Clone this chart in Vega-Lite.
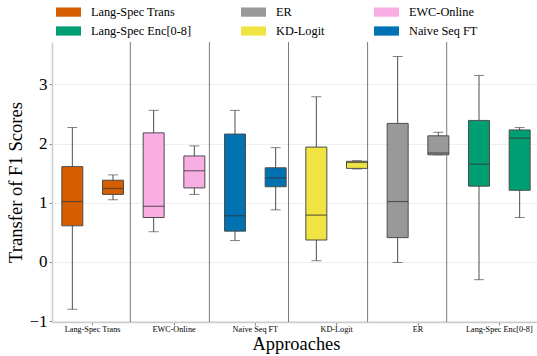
{
  "$schema": "https://vega.github.io/schema/vega-lite/v6.json",
  "width": 485,
  "height": 280,
  "autosize": {"type": "none"},
  "padding": {"left": 52, "top": 42, "right": 0, "bottom": 34},
  "background": "white",
  "config": {
    "font": "Liberation Serif",
    "view": {"stroke": null},
    "axis": {"labelFont": "Liberation Serif", "titleFont": "Liberation Serif", "titleFontWeight": "normal", "labelColor": "#000", "titleColor": "#000"},
    "legend": {"labelFont": "Liberation Serif", "titleFont": "Liberation Serif"},
    "text": {"font": "Liberation Serif"}
  },
  "datasets": {
    "boxes": [
      {"approach": "Lang-Spec Trans", "variant": "Cross", "lower": -0.80, "q1": 0.61, "median": 1.02, "q3": 1.61, "upper": 2.27},
      {"approach": "Lang-Spec Trans", "variant": "Dot", "lower": 1.05, "q1": 1.14, "median": 1.24, "q3": 1.38, "upper": 1.47},
      {"approach": "EWC-Online", "variant": "Cross", "lower": 0.51, "q1": 0.75, "median": 0.94, "q3": 2.18, "upper": 2.56},
      {"approach": "EWC-Online", "variant": "Dot", "lower": 1.14, "q1": 1.25, "median": 1.54, "q3": 1.79, "upper": 1.96},
      {"approach": "Naive Seq FT", "variant": "Cross", "lower": 0.36, "q1": 0.52, "median": 0.78, "q3": 2.16, "upper": 2.56},
      {"approach": "Naive Seq FT", "variant": "Dot", "lower": 0.88, "q1": 1.27, "median": 1.42, "q3": 1.59, "upper": 1.93},
      {"approach": "KD-Logit", "variant": "Cross", "lower": 0.02, "q1": 0.37, "median": 0.79, "q3": 1.94, "upper": 2.79},
      {"approach": "KD-Logit", "variant": "Dot", "lower": 1.57, "q1": 1.58, "median": 1.68, "q3": 1.70, "upper": 1.71},
      {"approach": "ER", "variant": "Cross", "lower": -0.01, "q1": 0.41, "median": 1.02, "q3": 2.34, "upper": 3.47},
      {"approach": "ER", "variant": "Dot", "lower": 1.81, "q1": 1.81, "median": 1.84, "q3": 2.13, "upper": 2.19},
      {"approach": "Lang-Spec Enc[0-8]", "variant": "Cross", "lower": -0.30, "q1": 1.28, "median": 1.65, "q3": 2.39, "upper": 3.15},
      {"approach": "Lang-Spec Enc[0-8]", "variant": "Dot", "lower": 0.75, "q1": 1.21, "median": 2.09, "q3": 2.23, "upper": 2.27}
    ],
    "seps": [{"boundary": 1.5}, {"boundary": 2.5}, {"boundary": 3.5}, {"boundary": 4.5}, {"boundary": 5.5}]
  },
  "layer": [
    {
      "data": {"name": "seps"},
      "mark": {"type": "rule", "color": "#7a7a7a", "strokeWidth": 1},
      "encoding": {
        "x": {"field": "boundary", "type": "quantitative", "axis": null, "scale": {"domain": [0.5101, 6.6416], "nice": false, "zero": false}}
      }
    },
    {
      "data": {"name": "boxes"},
      "encoding": {
        "x": {
          "field": "approach", "type": "nominal",
          "sort": ["Lang-Spec Trans", "EWC-Online", "Naive Seq FT", "KD-Logit", "ER", "Lang-Spec Enc[0-8]"],
          "scale": {"range": [0, 488], "paddingInner": 0, "paddingOuter": 0},
          "axis": {
            "title": "Approaches", "titleFontSize": 18.4, "titlePadding": 2.5, "titleFont": "Liberation Serif",
            "labelFontSize": 8.2, "labelAngle": 0, "labelPadding": 0, "labelFont": "Liberation Serif",
            "tickSize": 3, "tickColor": "#888", "domainColor": "#cccccc", "domainWidth": 1.5, "grid": false
          }
        },
        "xOffset": {"field": "variant", "type": "nominal", "sort": ["Cross", "Dot"], "scale": {"paddingInner": 0, "paddingOuter": 0}},
        "y": {
          "type": "quantitative",
          "scale": {"domain": [-1.015, 3.715], "nice": false, "zero": false},
          "axis": {
            "title": "Transfer of F1 Scores", "titleFontSize": 18.6, "titlePadding": 3, "titleFont": "Liberation Serif",
            "values": [-1, 0, 1, 2, 3], "labelFontSize": 17, "labelPadding": 2, "labelFont": "Liberation Serif",
            "tickSize": 3, "tickColor": "#888", "domainColor": "#cccccc", "domainWidth": 1.5,
            "grid": true, "gridColor": "#efefef", "gridWidth": 1
          }
        }
      },
      "layer": [
        {
          "mark": {"type": "rule", "color": "#4d4d4d", "strokeWidth": 1},
          "encoding": {"y": {"field": "lower", "type": "quantitative"}, "y2": {"field": "upper"}}
        },
        {
          "mark": {"type": "tick", "color": "#4d4d4d", "size": 10, "thickness": 1},
          "encoding": {"y": {"field": "upper", "type": "quantitative"}}
        },
        {
          "mark": {"type": "tick", "color": "#4d4d4d", "size": 10, "thickness": 1},
          "encoding": {"y": {"field": "lower", "type": "quantitative"}}
        },
        {
          "mark": {"type": "bar", "size": 21, "stroke": "#4d4d4d", "strokeWidth": 1, "opacity": 1},
          "encoding": {
            "y": {"field": "q1", "type": "quantitative"},
            "y2": {"field": "q3"},
            "color": {
              "field": "approach", "type": "nominal",
              "scale": {
                "domain": ["Lang-Spec Trans", "ER", "EWC-Online", "Lang-Spec Enc[0-8]", "KD-Logit", "Naive Seq FT"],
                "range": ["#D55E00", "#999999", "#F9AEE3", "#009E73", "#F0E442", "#0072B2"]
              },
              "legend": {
                "title": null, "orient": "none", "legendX": 4, "legendY": -42.5, "columns": 3, "direction": "horizontal",
                "gridAlign": "each", "columnPadding": 49, "rowPadding": -7, "padding": 0,
                "symbolType": "M-1,-0.37H1V0.37H-1Z", "symbolSize": 625, "symbolStrokeWidth": 0, "symbolOpacity": 1,
                "labelFont": "Liberation Serif", "labelFontSize": 12.3, "labelOffset": 10, "labelColor": "#000", "labelLimit": 300
              }
            }
          }
        },
        {
          "mark": {"type": "tick", "color": "#333333", "opacity": 0.7, "size": 21, "thickness": 1.2},
          "encoding": {"y": {"field": "median", "type": "quantitative"}}
        }
      ]
    }
  ],
  "resolve": {"scale": {"x": "independent"}}
}
